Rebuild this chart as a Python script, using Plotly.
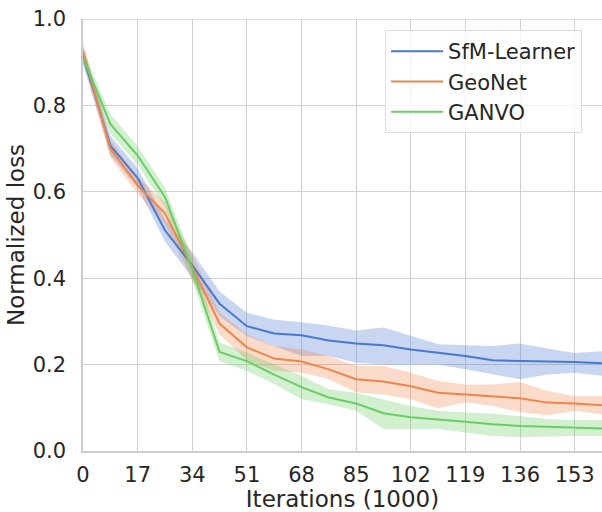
import plotly.graph_objects as go

iters = [0, 8.5, 17, 25.5, 34, 42.5, 51, 59.5, 68, 76.5, 85, 93.5, 102, 110.5, 119, 127.5, 136, 144.5, 153, 161.5]

sfm_mean = [0.915, 0.707, 0.632, 0.511, 0.43, 0.341, 0.289, 0.272, 0.268, 0.256, 0.249, 0.245, 0.235, 0.228, 0.22, 0.21, 0.208, 0.207, 0.206, 0.203]
sfm_low = [0.895, 0.685, 0.61, 0.485, 0.40, 0.312, 0.266, 0.243, 0.22, 0.22, 0.204, 0.20, 0.20, 0.20, 0.189, 0.177, 0.166, 0.177, 0.181, 0.174]
sfm_high = [0.935, 0.73, 0.655, 0.537, 0.46, 0.369, 0.32, 0.304, 0.298, 0.29, 0.279, 0.286, 0.267, 0.247, 0.245, 0.243, 0.249, 0.237, 0.227, 0.231]

geo_mean = [0.926, 0.70, 0.615, 0.55, 0.425, 0.295, 0.24, 0.214, 0.207, 0.189, 0.166, 0.161, 0.15, 0.135, 0.131, 0.127, 0.122, 0.112, 0.11, 0.106]
geo_low = [0.905, 0.68, 0.595, 0.525, 0.395, 0.27, 0.21, 0.185, 0.182, 0.166, 0.136, 0.131, 0.12, 0.099, 0.113, 0.104, 0.09, 0.083, 0.093, 0.085]
geo_high = [0.945, 0.72, 0.635, 0.575, 0.455, 0.32, 0.27, 0.243, 0.235, 0.22, 0.197, 0.197, 0.181, 0.162, 0.154, 0.154, 0.16, 0.139, 0.127, 0.127]

ganvo_mean = [0.911, 0.757, 0.684, 0.588, 0.42, 0.229, 0.208, 0.177, 0.148, 0.124, 0.11, 0.0876, 0.078, 0.072, 0.0676, 0.062, 0.058, 0.056, 0.054, 0.052]
ganvo_low = [0.895, 0.735, 0.662, 0.565, 0.395, 0.208, 0.185, 0.155, 0.12, 0.108, 0.093, 0.051, 0.051, 0.051, 0.043, 0.035, 0.032, 0.034, 0.035, 0.035]
ganvo_high = [0.928, 0.78, 0.706, 0.61, 0.445, 0.251, 0.228, 0.2, 0.174, 0.143, 0.135, 0.12, 0.104, 0.093, 0.089, 0.087, 0.081, 0.074, 0.072, 0.072]

x_ticks = [0, 17, 34, 51, 68, 85, 102, 119, 136, 153]
y_ticks = [0.0, 0.2, 0.4, 0.6, 0.8, 1.0]

series = [
    ("SfM-Learner", sfm_mean, sfm_low, sfm_high, "#4878d0", "rgba(72,120,208,0.3)"),
    ("GeoNet", geo_mean, geo_low, geo_high, "#ee854a", "rgba(238,133,74,0.3)"),
    ("GANVO", ganvo_mean, ganvo_low, ganvo_high, "#6acc64", "rgba(106,204,100,0.3)"),
]

fig = go.Figure()
for name, m, lo, hi, col, fcol in series:
    fig.add_trace(go.Scatter(x=iters, y=hi, mode="lines", line=dict(width=0), showlegend=False, hoverinfo="skip"))
    fig.add_trace(go.Scatter(x=iters, y=lo, mode="lines", line=dict(width=0), fill="tonexty",
                             fillcolor=fcol, showlegend=False, hoverinfo="skip"))
for name, m, lo, hi, col, fcol in series:
    fig.add_trace(go.Scatter(x=iters, y=m, mode="lines", name=name, line=dict(color=col, width=2)))

fig.update_layout(
    width=602, height=512,
    margin=dict(l=83, r=0, t=19, b=61),
    paper_bgcolor="white", plot_bgcolor="white",
    font=dict(family="DejaVu Sans", size=21, color="#262626"),
    showlegend=True,
    legend=dict(x=0.582, y=0.9745, xanchor="left", yanchor="top", traceorder="normal",
                bgcolor="rgba(255,255,255,0.8)", bordercolor="#dddddd", borderwidth=1,
                font=dict(size=21, color="#262626"), tracegroupgap=0, itemwidth=52),
)
fig.update_xaxes(
    range=[0, 161.5], tickvals=x_ticks, ticktext=[str(v) for v in x_ticks],
    showgrid=True, gridcolor="#d0d0d0", gridwidth=1.3,
    showline=True, linecolor="#cccccc", linewidth=1.5, zeroline=False,
    ticks="", ticklabelstandoff=4, automargin=False, ticklabeloverflow="allow",
    title=dict(text="Iterations (1000)", font=dict(size=23), standoff=2),
)
fig.update_yaxes(
    range=[0, 1.0], tickvals=y_ticks, ticktext=[f"{v:.1f}" for v in y_ticks],
    showgrid=True, gridcolor="#d0d0d0", gridwidth=1.3,
    showline=True, linecolor="#cccccc", linewidth=1.5, zeroline=False, mirror=False,
    ticks="", ticklabelstandoff=11, automargin=False, ticklabeloverflow="allow",
    title=dict(text="Normalized loss", font=dict(size=23), standoff=2),
)
fig.add_hline(y=1.0, line=dict(color="#d0d0d0", width=1.3), layer="below")

# remove the default 8px page margin so the 602x512 figure fills the window exactly
fig.write_html("out.html", config={"displayModeBar": False},
               post_script="document.body.style.margin='0';document.body.style.overflow='hidden';")
